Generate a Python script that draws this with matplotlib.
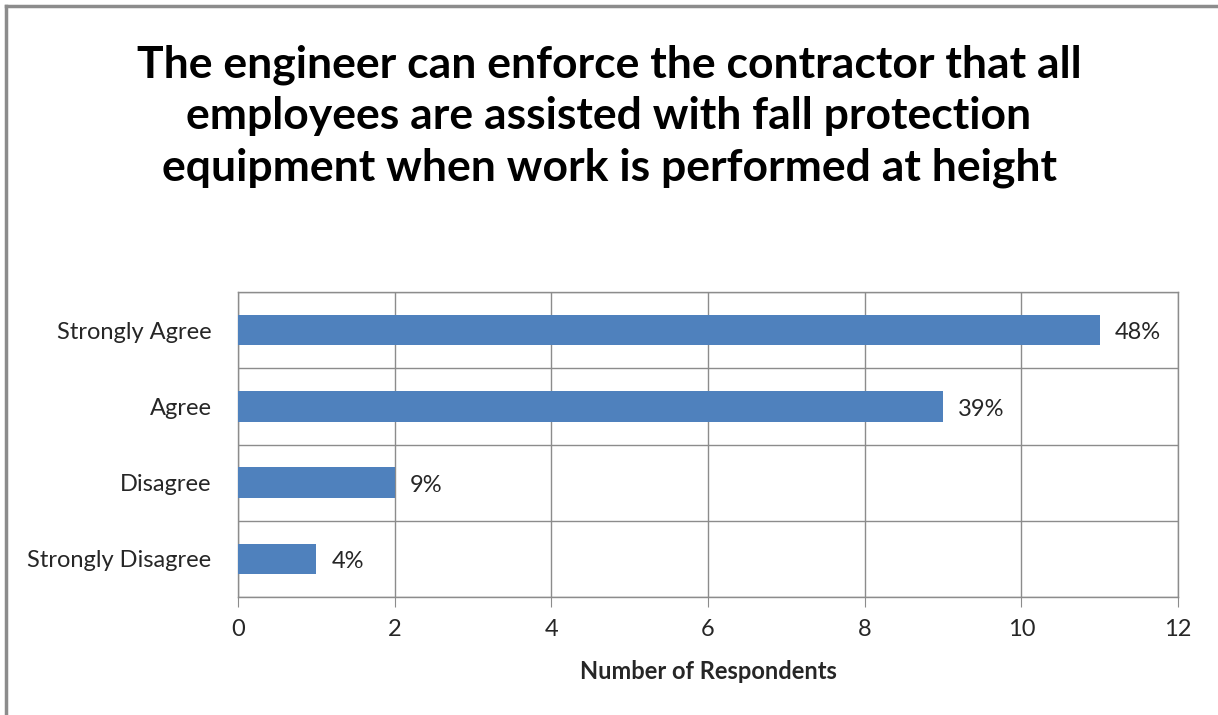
import matplotlib.pyplot as plt
from matplotlib.lines import Line2D

categories = ["Strongly Agree", "Agree", "Disagree", "Strongly Disagree"]
respondents = [11, 9, 2, 1]
percent_labels = ["48%", "39%", "9%", "4%"]
x_ticks = [0, 2, 4, 6, 8, 10, 12]

plt.rcParams["font.family"] = ["Lato", "DejaVu Sans"]

fig = plt.figure(figsize=(12.18, 7.15), dpi=100)
ax = fig.add_axes([238 / 1218, 1 - 597 / 715, 940 / 1218, 305 / 715])

bar_color = "#4f81bd"
grid_color = "#8c8c8c"
text_color = "#262626"

ypos = list(range(len(categories)))
ax.barh(ypos, respondents, height=0.4, color=bar_color, zorder=3)
ax.set_ylim(len(categories) - 0.5, -0.5)
ax.set_xlim(0, 12)

# category separators
for b in range(len(categories) + 1):
    ax.axhline(b - 0.5, color=grid_color, linewidth=1, zorder=1)
ax.set_xticks(x_ticks)
ax.set_xticklabels([str(t) for t in x_ticks], fontsize=17, color=text_color)
ax.xaxis.grid(True, color=grid_color, linewidth=1, zorder=1)
ax.tick_params(axis="x", length=7, color=grid_color, pad=9)
ax.set_yticks(ypos)
ax.set_yticklabels(categories, fontsize=17, color=text_color)
ax.tick_params(axis="y", length=0, pad=19)
for s in ax.spines.values():
    s.set_color(grid_color)
    s.set_linewidth(1)

for y, v, lab in zip(ypos, respondents, percent_labels):
    ax.annotate(lab, (v, y), xytext=(11, -2), textcoords="offset points",
                va="center", ha="left", fontsize=17, color=text_color)

ax.set_xlabel("Number of Respondents", fontsize=17, fontweight="bold",
              color=text_color, labelpad=14)

fig.text(0.5, 1 - 116 / 715,
         "The engineer can enforce the contractor that all\n"
         "employees are assisted with fall protection\n"
         "equipment when work is performed at height",
         ha="center", va="center", fontsize=32, fontweight="bold",
         linespacing=1.34, color="black")

# outer chart border (only top and left visible in the crop)
fig.add_artist(Line2D([6 / 1218, 1], [1 - 6 / 715] * 2, color="#8c8c8c",
                      linewidth=2.5, transform=fig.transFigure))
fig.add_artist(Line2D([6 / 1218] * 2, [0, 1 - 6 / 715], color="#8c8c8c",
                      linewidth=2.5, transform=fig.transFigure))

fig.savefig("out.png", dpi=100)
